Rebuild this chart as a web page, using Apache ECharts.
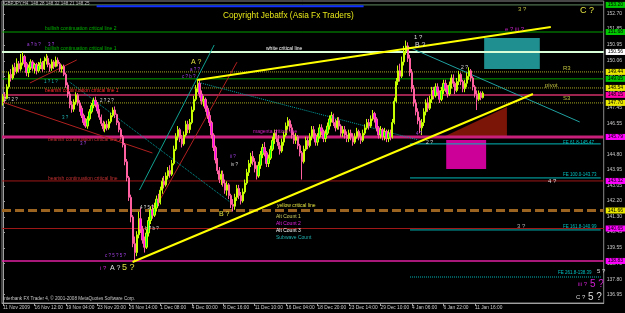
<!DOCTYPE html>
<html><head><meta charset="utf-8">
<script src="https://cdn.jsdelivr.net/npm/echarts@6/dist/echarts.min.js"></script>
<style>html,body{margin:0;padding:0;background:#000}#c{width:625px;height:313px}</style>
</head><body><div id="c"></div>
<script>
const timeLabels = ["11 Nov 2009","16 Nov 12:00","19 Nov 04:00","23 Nov 20:00","26 Nov 14:00","1 Dec 08:00","4 Dec 00:00","8 Dec 16:00","11 Dec 10:00","16 Dec 04:00","18 Dec 20:00","23 Dec 14:00","29 Dec 10:00","4 Jan 06:00","6 Jan 22:00","11 Jan 16:00"];
const priceTicks = [136.95,137.80,138.70,139.55,140.45,141.30,142.20,143.05,143.95,144.80,145.70,146.55,147.45,148.30,149.20,150.06,150.95,151.85,152.70];
// [open, close, low, high]
const candles = [
[147.80,148.05,147.55,148.20],[148.05,147.95,147.70,148.30],[147.95,148.60,147.90,148.75],[148.60,149.30,148.50,149.45],[149.30,149.10,148.90,149.60],
[149.10,149.70,149.00,149.85],[149.70,149.45,149.25,149.95],[149.45,149.90,149.35,150.20],[149.90,149.60,149.40,150.05],[149.60,149.95,149.50,150.45],
[149.95,150.30,149.80,150.55],[150.30,149.90,149.70,150.40],[149.90,149.40,149.20,150.00],[149.40,149.70,149.15,149.85],[149.70,150.00,149.55,150.15],
[150.00,149.65,149.50,150.10],[149.65,149.85,149.35,149.95],[149.85,149.50,149.30,149.95],[149.50,149.80,149.40,150.00],[149.80,149.95,149.60,150.20],
[149.95,149.60,149.45,150.05],[149.60,150.05,149.55,150.30],[150.05,150.20,149.85,150.45],[150.20,149.85,149.70,150.35],[149.85,149.65,149.45,149.95],
[149.65,150.00,149.50,150.15],[150.00,149.75,149.60,150.10],[149.75,150.10,149.70,150.30],[150.10,149.90,149.75,150.25],[149.90,149.60,149.45,150.00],
[149.60,149.75,149.40,149.85],[149.75,149.30,149.20,149.85],[149.30,148.70,148.55,149.40],[148.70,148.20,148.00,148.85],[148.20,147.60,147.40,148.35],
[147.60,147.35,147.15,147.80],[147.35,147.75,147.20,147.90],[147.75,148.15,147.60,148.30],[148.15,147.70,147.55,148.25],[147.70,147.40,147.20,147.85],
[147.40,147.00,146.85,147.55],[147.00,146.60,146.45,147.10],[146.60,146.40,146.30,146.85],[146.40,146.80,146.25,146.95],[146.80,147.20,146.70,147.35],
[147.20,147.55,147.10,147.70],[147.55,147.85,147.40,148.00],[147.85,147.60,147.45,148.05],[147.60,147.25,147.10,147.75],[147.25,146.90,146.75,147.35],
[146.90,146.55,146.40,147.05],[146.55,146.25,146.10,146.70],[146.25,146.50,146.05,146.65],[146.50,146.30,146.15,146.70],[146.30,146.65,146.20,146.80],
[146.65,147.00,146.55,147.15],[147.00,147.30,146.90,147.45],[147.30,147.05,146.85,147.50],[147.05,146.60,146.45,147.10],[146.60,146.20,146.05,146.70],
[146.20,145.80,145.65,146.30],[145.80,145.35,145.20,145.90],[145.35,144.40,144.20,145.45],[144.40,143.50,143.30,144.55],[143.50,142.40,142.20,143.60],
[142.40,141.30,141.00,142.55],[141.30,139.80,139.60,141.40],[139.80,139.30,138.85,140.20],[139.30,140.30,139.10,140.50],[140.30,141.20,140.10,141.60],
[141.20,140.60,140.40,141.80],[140.60,140.00,139.80,140.80],[140.00,139.60,139.30,140.20],[139.60,140.40,139.50,140.60],[140.40,141.10,140.20,141.30],
[141.10,141.70,140.90,141.90],[141.70,141.40,141.20,142.00],[141.40,141.80,141.30,142.10],[141.80,142.30,141.60,142.50],[142.30,142.10,141.90,142.60],
[142.10,142.80,142.00,143.00],[142.80,143.30,142.60,143.50],[143.30,143.10,142.90,143.60],[143.10,143.60,143.00,143.80],[143.60,143.90,143.40,144.10],
[143.90,143.70,143.50,144.20],[143.70,144.30,143.60,144.50],[144.30,145.10,144.20,145.30],[145.10,145.80,145.00,146.00],[145.80,146.20,145.60,146.40],
[146.20,145.70,145.50,146.30],[145.70,145.40,145.20,145.90],[145.40,145.90,145.30,146.10],[145.90,146.50,145.80,146.70],[146.50,146.20,146.00,146.70],
[146.20,146.60,146.00,146.80],[146.60,147.30,146.50,147.50],[147.30,147.90,147.20,148.10],[147.90,148.50,147.80,148.70],[148.50,148.80,148.30,149.00],
[148.80,148.20,148.00,149.05],[148.20,147.80,147.60,148.40],[147.80,147.90,147.50,148.10],[147.90,147.40,147.20,148.00],[147.40,147.00,146.80,147.55],
[147.00,146.60,146.40,147.20],[146.60,145.90,145.70,146.70],[145.90,145.20,145.00,146.00],[145.20,144.50,144.30,145.30],[144.50,143.90,143.70,144.60],
[143.90,143.40,143.20,144.10],[143.40,143.70,143.10,143.90],[143.70,143.20,143.00,143.90],[143.20,142.80,142.60,143.40],[142.80,143.10,142.50,143.30],
[143.10,142.50,142.30,143.20],[142.50,142.00,141.80,142.60],[142.00,141.90,141.60,142.30],[141.90,142.40,141.70,142.60],[142.40,142.90,142.20,143.10],
[142.90,142.50,142.30,143.10],[142.50,142.20,142.00,142.70],[142.20,142.70,142.10,142.90],[142.70,143.20,142.60,143.40],[143.20,143.80,143.10,144.00],
[143.80,144.30,143.60,144.50],[144.30,144.70,144.10,144.90],[144.70,144.40,144.20,145.00],[144.40,144.00,143.80,144.60],[144.00,143.60,143.40,144.20],
[143.60,144.20,143.50,144.40],[144.20,144.80,144.00,145.00],[144.80,145.20,144.60,145.40],[145.20,144.90,144.70,145.50],[144.90,144.30,144.10,145.00],
[144.30,144.60,144.10,144.80],[144.60,145.10,144.50,145.30],[145.10,145.60,145.00,145.80],[145.60,146.00,145.40,146.20],[146.00,145.70,145.50,146.20],
[145.70,145.30,145.10,145.90],[145.30,145.00,144.80,145.50],[145.00,145.50,144.90,145.70],[145.50,145.90,145.30,146.10],[145.90,146.40,145.80,146.60],
[146.40,146.70,146.20,146.90],[146.70,146.30,146.10,146.80],[146.30,145.90,145.70,146.50],[145.90,145.60,145.40,146.10],[145.60,145.80,145.40,146.00],
[145.80,145.30,145.10,145.90],[145.30,144.90,144.70,145.40],[144.90,144.40,143.40,145.00],[144.40,145.10,144.30,145.30],[145.10,145.60,145.00,145.80],
[145.60,145.30,145.10,145.80],[145.30,145.80,145.20,146.00],[145.80,146.20,145.60,146.40],[146.20,145.90,145.70,146.40],[145.90,145.50,145.30,146.00],
[145.50,145.80,145.30,146.00],[145.80,146.30,145.70,146.50],[146.30,146.10,145.90,146.50],[146.10,145.70,145.50,146.20],[145.70,146.00,145.50,146.20],
[146.00,146.40,145.90,146.60],[146.40,146.80,146.20,147.00],[146.80,147.00,146.60,147.20],[147.00,146.60,146.40,147.10],[146.60,146.30,146.10,146.80],
[146.30,146.70,146.20,146.90],[146.70,146.40,146.20,146.90],[146.40,146.00,145.80,146.50],[146.00,146.20,145.80,146.40],[146.20,145.90,145.70,146.40],
[145.90,145.70,145.50,146.10],[145.70,146.00,145.50,146.20],[146.00,145.80,145.60,146.20],[145.80,145.50,145.30,146.00],[145.50,145.80,145.40,146.00],
[145.80,146.10,145.70,146.30],[146.10,145.80,145.60,146.20],[145.80,145.60,145.40,146.00],[145.60,146.00,145.50,146.20],[146.00,146.30,145.90,146.50],
[146.30,146.60,146.20,146.80],[146.60,146.40,146.20,146.80],[146.40,146.80,146.30,147.00],[146.80,147.10,146.70,147.30],[147.10,146.80,146.60,147.20],
[146.80,146.30,146.10,146.90],[146.30,145.90,145.70,146.40],[145.90,146.20,145.70,146.40],[146.20,145.80,145.60,146.30],[145.80,146.10,145.60,146.30],
[146.10,145.70,145.50,146.20],[145.70,146.00,145.50,146.20],[146.00,145.80,145.60,146.20],[145.80,146.60,145.70,146.80],[146.60,147.80,146.50,148.00],
[147.80,148.90,147.70,149.10],[148.90,149.50,148.70,149.80],[149.50,149.20,148.90,149.90],[149.20,150.00,149.10,150.30],[150.00,150.60,149.80,150.90],
[150.60,150.90,150.40,151.20],[150.90,150.20,150.00,151.10],[150.20,149.40,149.20,150.40],[149.40,148.50,148.30,149.60],[148.50,147.70,147.50,148.70],
[147.70,147.20,147.00,147.90],[147.20,146.70,146.50,147.40],[146.70,146.30,146.00,146.90],[146.30,146.60,145.90,146.80],[146.60,147.20,146.40,147.40],
[147.20,147.70,147.00,147.90],[147.70,147.40,147.20,148.00],[147.40,147.90,147.30,148.10],[147.90,148.40,147.70,148.60],[148.40,148.10,147.90,148.60],
[148.10,148.60,148.00,148.80],[148.60,148.30,148.10,148.80],[148.30,147.90,147.70,148.40],[147.90,148.40,147.80,148.60],[148.40,148.80,148.20,149.00],
[148.80,148.50,148.30,149.00],[148.50,148.20,148.00,148.70],[148.20,148.70,148.10,148.90],[148.70,149.10,148.50,149.30],[149.10,148.80,148.60,149.30],
[148.80,148.40,148.20,148.90],[148.40,148.90,148.30,149.10],[148.90,149.30,148.70,149.50],[149.30,148.90,148.70,149.40],[148.90,148.50,148.30,149.00],
[148.50,148.80,148.30,149.00],[148.80,149.20,148.60,149.40],[149.20,149.50,149.00,149.70],[149.50,149.10,148.90,149.60],[149.10,148.60,148.40,149.20],
[148.60,148.20,148.00,148.70],[148.20,147.90,147.30,148.40],[147.90,148.25,147.80,148.40],[148.25,148.00,147.85,148.35],[148.00,148.25,147.95,148.35]
];
// horizontal levels (price)
const levelPrices = [153.20,151.68,150.56,149.44,149.05,148.54,148.15,147.70,145.79,143.32,141.66,140.65,138.83];
// Fibonacci expansion levels
const feLevels = [145.40,143.49,140.57,137.93];
const feFrom = 207, feTo = 304;
// trend lines [[bar, price],[bar, price]]
const trendYellowSupport = [[65.9,138.77],[269.5,148.20]];
const trendYellowResist = [[98.8,148.99],[278.6,151.96]];
const trendTealB = [[206.2,150.84],[293.3,146.63]];
const trendTealDotA = [[98.8,148.87],[211.2,145.62]];
const trendTealDotL = [[33.9,148.87],[117.5,141.97]];
const trendTealSteep = [[69.4,142.81],[107.4,150.95]];
const trendRedA = [[-0.5,147.75],[76,144.89]];
const trendRedB = [[13.7,148.82],[37.5,150.11]];
const trendRedSteep = [[75.5,141.41],[119.0,149.99]];
const trendBlueTop = [[47.6,153.12],[183.4,153.12]];
// zones
const boxTeal = [[244.7,151.34],[273.0,149.61]];
const boxMagenta = [[225.4,145.62],[245.7,143.99]];
const triRed = [[223.9,145.79],[256.3,147.47],[256.3,145.79]];

const N = 306;
const FONT = 'Liberation Sans, Arial, sans-serif';
const chart = echarts.init(document.getElementById('c'));
const cats = Array.from({length: N}, (_, i) => String(i));

const levelStyles = [
 {c:'#5f8a5f', w:1, t:'solid', box:'#00c800'},
 {c:'#00a000', w:1, t:'solid', box:'#00c800'},
 {c:'#d8ffd8', w:2, t:'solid', box:'#ffffff'},
 {c:'#a8a820', w:1, t:'dotted', box:'#e8e800'},
 {c:'#00a000', w:1, t:'solid', box:'#00c800'},
 {c:'#a8a820', w:1, t:'dotted', box:'#e8e800'},
 {c:'#d0306a', w:1.5, t:'solid', box:'#ff00aa'},
 {c:'#a8a820', w:1, t:'dotted', box:'#e8e800'},
 {c:'#c8207a', w:3, t:'solid', box:'#ff00ff'},
 {c:'#a01818', w:1, t:'solid', box:'#ff00ff'},
 {c:'#9a6420', w:3, t:[9,4], box:'#e8e800'},
 {c:'#a01818', w:1, t:'solid', box:'#ff00ff'},
 {c:'#e020a0', w:1.5, t:'solid', box:'#ff00ff'}
];

function lineSeries(pts, color, width, type, extra) {
  return Object.assign({
    type: 'line', xAxisIndex: 1, yAxisIndex: 0, data: pts, showSymbol: false, symbol: 'none',
    silent: true, animation: false, z: 3,
    lineStyle: {color: color, width: width, type: type}
  }, extra || {});
}

const series = [];
levelPrices.forEach((p, i) => {
  const s = levelStyles[i];
  series.push(lineSeries([[-0.5, p], [N - 0.5, p]], s.c, s.w, s.t, {
    z: 2,
    endLabel: {show: true, formatter: () => p.toFixed(2), backgroundColor: s.box, color: '#000',
      fontSize: 5, fontFamily: FONT, padding: [1, 2, 0, 2], distance: 2}
  }));
});
feLevels.forEach((p, i) => {
  series.push(lineSeries([[feFrom, p], [feTo, p]], '#00b8b8', 1, i === 3 ? 'dotted' : 'solid', {z: 2}));
});
series.push(lineSeries(trendRedA, '#b02020', 1, 'solid'));
series.push(lineSeries(trendRedB, '#b02020', 1, 'solid'));
series.push(lineSeries(trendRedSteep, '#b02020', 1, 'solid'));
series.push(lineSeries(trendTealDotL, '#00a0a0', 1, 'dotted'));
series.push(lineSeries(trendTealDotA, '#00a0a0', 1, 'dotted'));
series.push(lineSeries(trendTealSteep, '#10a090', 1, 'solid'));
series.push(lineSeries(trendTealB, '#20a0a0', 1, 'solid'));
series.push(lineSeries(trendBlueTop, '#1030ff', 2, 'solid'));

function shapeSeries(pts, color, z) {
  return {
    type: 'custom', xAxisIndex: 1, yAxisIndex: 0, data: [[0, 0]], silent: true, z: z,
    renderItem: (params, api) => {
      let poly;
      if (pts.length === 2) {
        const a = pts[0], b = pts[1];
        poly = [[a[0], a[1]], [b[0], a[1]], [b[0], b[1]], [a[0], b[1]]];
      } else poly = pts;
      return {type: 'polygon', shape: {points: poly.map(q => api.coord(q))}, style: {fill: color}};
    }
  };
}
series.push(shapeSeries(boxTeal, '#1f8f8f', 1));
series.push(shapeSeries(boxMagenta, '#cc0099', 1));
series.push(shapeSeries(triRed, '#7a1508', 1));

series.push({
  type: 'candlestick', xAxisIndex: 0, yAxisIndex: 0, data: candles, barWidth: 1.8, z: 4,
  itemStyle: {color: '#00ff00', color0: '#ff00ff', borderColor: '#c8ff00', borderColor0: '#ff60a0', borderWidth: 1}
});
series.push(lineSeries(trendYellowSupport, '#ffff00', 2, 'solid', {z: 5}));
series.push(lineSeries(trendYellowResist, '#ffff00', 2, 'solid', {z: 5}));

const notes = [
 ['GBPJPY,H4  148.28 148.32 148.21 148.25', 4, 4, '#c0c0c0', 4.5],
 ['Copyright Jebatfx (Asia Fx Traders)', 223, 16, '#e6e619', 8.3],
 ['bullish continuation critical line 2', 45, 29, '#00b000', 5],
 ['bullish continuation critical line 1', 45, 49, '#00b000', 5],
 ['white critical line', 266, 49, '#ffffff', 5],
 ['bearish continuation critical line 1', 45, 91, '#ff2a2a', 5],
 ['bearish continuation critical line 2', 48, 140, '#c03030', 5],
 ['magenta critical line', 253, 132, '#d020c0', 5],
 ['bearish continuation critical line', 48, 179, '#c03030', 5],
 ['yellow critical line', 277, 206, '#e0e040', 5],
 ['Alt Count 1', 276, 217, '#d0d060', 5],
 ['Alt Count 2', 276, 224, '#e020e0', 5],
 ['Alt Count 3', 276, 231, '#ffffff', 5],
 ['Subwave Count', 276, 238, '#20b0b0', 5],
 ['R3', 563, 68, '#c0c040', 6],
 ['pivot', 545, 85, '#c0c040', 6],
 ['S3', 563, 98, '#c0c040', 6],
 ['C ?', 580, 11, '#e0e040', 9],
 ['3 ?', 518, 9, '#c0c040', 6],
 ['e ? iii ?', 505, 29, '#c020c0', 6],
 ['1 ?', 414, 37, '#dddddd', 6],
 ['B ?', 415, 45, '#dddddd', 7],
 ['2 ?', 461, 68, '#dddddd', 5],
 ['A ?', 191, 62, '#e0e040', 7],
 ['B ?', 219, 214, '#e0e040', 7],
 ['i ?', 100, 268, '#d020d0', 6],
 ['A ?', 110, 268, '#e0e0e0', 7],
 ['5 ?', 122, 268, '#e0e040', 9],
 ['4 ?', 548, 181, '#dddddd', 6],
 ['3 ?', 517, 226, '#aaaaaa', 6],
 ['1 ? 2 ?', 4, 100, '#dddddd', 4.5],
 ['a ? b ?', 27, 45, '#a040e0', 4.5],
 ['3 ?', 48, 45, '#a040e0', 4.5],
 ['1 ? 1 ?', 44, 82, '#20b0b0', 4.5],
 ['3 ?', 62, 118, '#20b0b0', 4.5],
 ['2 ? 2 ?', 100, 101, '#dddddd', 4.5],
 ['3 ?', 80, 144, '#a040e0', 4.5],
 ['a ? ?', 190, 70, '#a040e0', 4.5],
 ['c ? b ?', 182, 77, '#a040e0', 4.5],
 ['ii ?', 230, 157, '#a040e0', 4.5],
 ['iv ?', 231, 165, '#dddddd', 4.5],
 ['4 ? 5 ?', 140, 208, '#dddddd', 4.5],
 ['b ? b ?', 145, 229, '#dddddd', 4.5],
 ['c ? 5 ? 5 ?', 105, 256, '#a040e0', 4.5],
 ['2 ?', 426, 143, '#dddddd', 5],
 ['4 ?', 416, 134, '#a040e0', 4.5],
 ['FE 61.8-145.47', 563, 143, '#00c0c0', 4.5],
 ['FE 100.0-143.73', 563, 175, '#00c0c0', 4.5],
 ['FE 161.8-140.99', 563, 227, '#00c0c0', 4.5],
 ['FE 261.8-138.39', 558, 273, '#00c0c0', 4.5],
 ['5 ?', 597, 271, '#dddddd', 6],
 ['iii ?', 578, 284, '#d020d0', 6],
 ['5 ?', 590, 284, '#d020d0', 10],
 ['C ?', 576, 297, '#dddddd', 6],
 ['5 ?', 588, 297, '#dddddd', 10],
 ['Interbank FX Trader 4, \u00a9 2001-2008 MetaQuotes Software Corp.', 3, 299, '#c8c8c8', 4.6]
];

const graphic = notes.map(n => ({
  type: 'text', x: n[1], y: n[2], z: 100, silent: true,
  style: {text: n[0], fill: n[3], font: n[4] + 'px ' + FONT, textVerticalAlign: 'middle', verticalAlign: 'middle'}
}));

chart.setOption({
  backgroundColor: '#000',
  animation: false,
  grid: {left: 2, right: 19, top: 1, bottom: 10, show: true, borderColor: '#8a8a8a', borderWidth: 1},
  xAxis: [{
    type: 'category', data: cats, boundaryGap: true,
    axisLine: {lineStyle: {color: '#a0a0a0'}},
    axisTick: {show: true, alignWithLabel: true, interval: (i) => i % 16 === 0 && i <= 240, length: 3, lineStyle: {color: '#a0a0a0'}},
    axisLabel: {interval: (i) => i % 16 === 0 && i <= 240, formatter: (v, i) => timeLabels[i / 16] || '',
      color: '#c8c8c8', fontSize: 4.8, fontFamily: FONT, align: 'left', margin: 2},
    splitLine: {show: false}
  }, {type: 'value', min: -0.5, max: N - 0.5, show: false}],
  yAxis: [{
    type: 'value', position: 'right', min: 136.47, max: 153.42,
    axisLine: {show: true, lineStyle: {color: '#a0a0a0'}},
    axisTick: {show: true, customValues: priceTicks, length: 2, lineStyle: {color: '#a0a0a0'}},
    axisLabel: {customValues: priceTicks, formatter: v => v.toFixed(2), color: '#c8c8c8', fontSize: 5, fontFamily: FONT, margin: 3},
    splitLine: {show: false}
  }],
  graphic: graphic,
  series: series
});
</script></body></html>
